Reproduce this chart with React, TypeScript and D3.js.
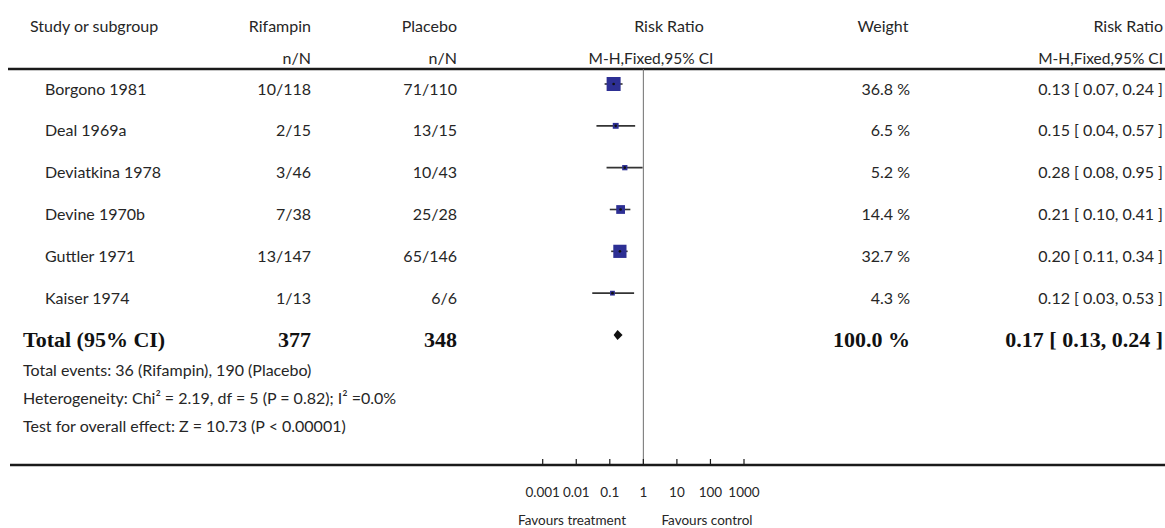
import React from "react";
import * as d3 from "d3";

// Rifampin vs placebo, risk ratio meta-analysis (M-H, fixed effect)
const studies = ["Borgono 1981", "Deal 1969a", "Deviatkina 1978", "Devine 1970b", "Guttler 1971", "Kaiser 1974"];
const rifEvents = [10, 2, 3, 7, 13, 1];
const rifTotal = [118, 15, 46, 38, 147, 13];
const plaEvents = [71, 13, 10, 25, 65, 6];
const plaTotal = [110, 15, 43, 28, 146, 6];
const weights = [36.8, 6.5, 5.2, 14.4, 32.7, 4.3];
const rr = [0.13, 0.15, 0.28, 0.21, 0.2, 0.12];
const rrLow = [0.07, 0.04, 0.08, 0.1, 0.11, 0.03];
const rrHigh = [0.24, 0.57, 0.95, 0.41, 0.34, 0.53];

const pooled = { rr: 0.17, low: 0.13, high: 0.24, weight: 100.0 };
const axisTicks = [0.001, 0.01, 0.1, 1, 10, 100, 1000];
const axisTickLabels = ["0.001", "0.01", "0.1", "1", "10", "100", "1000"];

const footerLines = [
  `Total events: ${d3.sum(rifEvents)} (Rifampin), ${d3.sum(plaEvents)} (Placebo)`,
  "Heterogeneity: Chi² = 2.19, df = 5 (P = 0.82); I² =0.0%",
  "Test for overall effect: Z = 10.73 (P < 0.00001)",
];

const W = 1165;
const H = 528;
const SANS = "Lato, 'Open Sans', sans-serif";
const SERIF = "'Liberation Serif', 'Times New Roman', serif";
const INK = "#262626";
const BLUE = "#2d2f94";

export default function App() {
  const x = d3.scaleLog().domain([0.001, 1000]).range([542.7, 744]);
  const rowY = d3
    .scalePoint<number>()
    .domain(d3.range(studies.length + 1))
    .range([84, 335]);
  const boxSize = d3.scaleSqrt().domain([0, d3.max(weights)!]).range([0, 14]);

  const topRule = 69;
  const axisY = 465;
  const totalY = rowY(studies.length)!;
  const fmt2 = d3.format(".2f");
  const fmtW = d3.format(".1f");

  const colStudy = 45;
  const colRif = 311;
  const colPla = 457;
  const colWeight = 910;
  const colCI = 1163;

  const txt = { fontFamily: SANS, fontSize: 16, fill: INK } as const;

  return (
    <svg width={W} height={H} style={{ position: "absolute", left: 0, top: 0, background: "#fff" }}>
      {/* header */}
      <g {...txt}>
        <text x={30} y={32}>Study or subgroup</text>
        <text x={colRif} y={32} textAnchor="end">Rifampin</text>
        <text x={colRif} y={64} textAnchor="end">n/N</text>
        <text x={colPla} y={32} textAnchor="end">Placebo</text>
        <text x={colPla} y={64} textAnchor="end">n/N</text>
        <text x={669} y={32} textAnchor="middle">Risk Ratio</text>
        <text x={651} y={64} textAnchor="middle" fontSize={15.5}>M-H,Fixed,95% CI</text>
        <text x={883} y={32} textAnchor="middle">Weight</text>
        <text x={1163} y={32} textAnchor="end">Risk Ratio</text>
        <text x={1163} y={64} textAnchor="end" fontSize={15.5}>M-H,Fixed,95% CI</text>
      </g>
      <line x1={8} x2={W} y1={topRule} y2={topRule} stroke="#1a1a1a" strokeWidth={2.5} />

      {/* line of no effect */}
      <line x1={x(1)} x2={x(1)} y1={topRule} y2={axisY} stroke="#6e6e6e" strokeWidth={1} />

      {/* study rows */}
      {studies.map((s, i) => {
        const y = rowY(i)!;
        const b = boxSize(weights[i]);
        return (
          <g key={s}>
            <g {...txt}>
              <text x={colStudy} y={y + 4} dominantBaseline="central">{s}</text>
              <text x={colRif} y={y + 4} dominantBaseline="central" textAnchor="end">
                {`${rifEvents[i]}/${rifTotal[i]}`}
              </text>
              <text x={colPla} y={y + 4} dominantBaseline="central" textAnchor="end">
                {`${plaEvents[i]}/${plaTotal[i]}`}
              </text>
              <text x={colWeight} y={y + 4} dominantBaseline="central" textAnchor="end">
                {`${fmtW(weights[i])} %`}
              </text>
              <text x={colCI} y={y + 4} dominantBaseline="central" textAnchor="end">
                {`${fmt2(rr[i])} [ ${fmt2(rrLow[i])}, ${fmt2(rrHigh[i])} ]`}
              </text>
            </g>
            <line x1={x(rrLow[i])} x2={x(rrHigh[i])} y1={y} y2={y} stroke="#333" strokeWidth={1.6} />
            <rect x={x(rr[i]) - b / 2} y={y - b / 2} width={b} height={b} fill={BLUE} />
            <circle cx={x(rr[i])} cy={y} r={1.3} fill="#111" />
          </g>
        );
      })}

      {/* pooled estimate */}
      <g fontFamily={SERIF} fontWeight="bold" fontSize={22} fill="#111">
        <text x={23} y={totalY + 4} dominantBaseline="central">Total (95% CI)</text>
        <text x={colRif} y={totalY + 4} dominantBaseline="central" textAnchor="end">{d3.sum(rifTotal)}</text>
        <text x={colPla} y={totalY + 4} dominantBaseline="central" textAnchor="end">{d3.sum(plaTotal)}</text>
        <text x={colWeight} y={totalY + 4} dominantBaseline="central" textAnchor="end">{`${fmtW(pooled.weight)} %`}</text>
        <text x={colCI} y={totalY + 4} dominantBaseline="central" textAnchor="end">
          {`${fmt2(pooled.rr)} [ ${fmt2(pooled.low)}, ${fmt2(pooled.high)} ]`}
        </text>
      </g>
      <path
        d={`M${x(pooled.low)},${totalY} L${x(pooled.rr)},${totalY - 5} L${x(pooled.high)},${totalY} L${x(pooled.rr)},${totalY + 5} Z`}
        fill="#111"
      />

      {/* footnotes */}
      <g {...txt} fontSize={16}>
        {footerLines.map((l, i) => (
          <text key={i} x={23} y={369 + i * 28} dominantBaseline="central">{l}</text>
        ))}
      </g>

      {/* log axis */}
      <line x1={10} x2={W} y1={axisY} y2={axisY} stroke="#1a1a1a" strokeWidth={2.5} />
      {axisTicks.map((t, i) => (
        <g key={t}>
          <line x1={x(t)} x2={x(t)} y1={axisY - 6} y2={axisY} stroke="#1a1a1a" strokeWidth={1.2} />
          <text
            x={x(t)}
            y={492}
            dominantBaseline="central"
            textAnchor="middle"
            fontFamily={SANS}
            fontSize={13.5}
            fill={INK}
          >
            {axisTickLabels[i]}
          </text>
        </g>
      ))}
      <text x={572} y={520} dominantBaseline="central" textAnchor="middle" fontFamily={SANS} fontSize={13.5} fill={INK}>
        Favours treatment
      </text>
      <text x={707} y={520} dominantBaseline="central" textAnchor="middle" fontFamily={SANS} fontSize={13.5} fill={INK}>
        Favours control
      </text>
    </svg>
  );
}
